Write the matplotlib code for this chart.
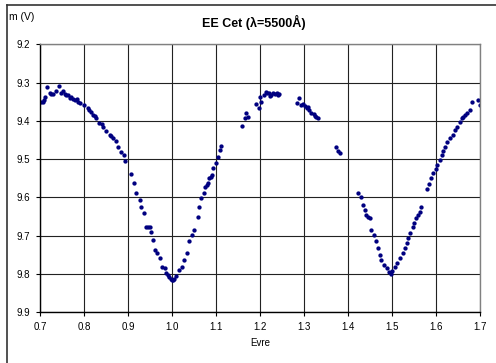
import matplotlib
matplotlib.use("Agg")
import matplotlib.pyplot as plt
from matplotlib.lines import Line2D

# phase (Evre) and V magnitude
phase = [0.703, 0.706, 0.710, 0.712, 0.716, 0.722, 0.726, 0.730, 0.737, 0.744,
         0.748, 0.752, 0.756, 0.760, 0.764, 0.768, 0.771, 0.775, 0.779, 0.783,
         0.786, 0.792, 0.800, 0.809, 0.812, 0.815, 0.820, 0.824, 0.828, 0.835,
         0.840, 0.843, 0.850, 0.858, 0.862, 0.866, 0.873, 0.877, 0.884, 0.892,
         0.894, 0.907,
         0.913, 0.919, 0.927, 0.930, 0.936, 0.942, 0.945, 0.949, 0.953, 0.957,
         0.961, 0.966, 0.972, 0.978, 0.983, 0.987, 0.990, 0.993, 0.997, 1.000,
         1.003, 1.005, 1.010, 1.015, 1.022, 1.028, 1.035, 1.039, 1.045, 1.050,
         1.058, 1.061, 1.067, 1.073, 1.076, 1.080, 1.082, 1.085, 1.088, 1.090,
         1.093, 1.100, 1.104, 1.109, 1.112,
         1.158, 1.165, 1.169, 1.173, 1.190, 1.197, 1.200, 1.203, 1.210, 1.214,
         1.217, 1.220, 1.223, 1.226, 1.230, 1.234, 1.238, 1.241, 1.244,
         1.283, 1.289, 1.294, 1.298, 1.302, 1.306, 1.309, 1.312, 1.317, 1.322,
         1.325, 1.328, 1.332,
         1.373, 1.378, 1.381,
         1.423, 1.429, 1.433, 1.438, 1.442, 1.446, 1.450, 1.453, 1.460, 1.463,
         1.469, 1.473, 1.476, 1.481, 1.488, 1.494, 1.497, 1.501, 1.507, 1.512,
         1.518, 1.524, 1.529, 1.533, 1.537, 1.542, 1.547, 1.550, 1.554, 1.560,
         1.563, 1.567,
         1.580, 1.585, 1.588, 1.594, 1.600, 1.603, 1.608, 1.613, 1.617, 1.621,
         1.626, 1.632, 1.638, 1.643, 1.648, 1.654, 1.658, 1.662, 1.666, 1.670,
         1.677, 1.681, 1.696, 1.700]
mag = [9.350, 9.350, 9.345, 9.337, 9.311, 9.326, 9.330, 9.330, 9.321, 9.308,
       9.328, 9.322, 9.330, 9.333, 9.332, 9.340, 9.338, 9.343, 9.345, 9.344,
       9.350, 9.354, 9.358, 9.367, 9.372, 9.376, 9.385, 9.388, 9.393, 9.405,
       9.408, 9.415, 9.426, 9.437, 9.440, 9.445, 9.452, 9.469, 9.480, 9.489,
       9.504, 9.539,
       9.563, 9.589, 9.607, 9.624, 9.641, 9.678, 9.676, 9.678, 9.689, 9.711,
       9.737, 9.746, 9.759, 9.782, 9.785, 9.798, 9.803, 9.808, 9.813, 9.815,
       9.815, 9.813, 9.805, 9.789, 9.781, 9.763, 9.746, 9.715, 9.698, 9.685,
       9.650, 9.624, 9.602, 9.589, 9.572, 9.568, 9.563, 9.550, 9.546, 9.541,
       9.524, 9.511, 9.494, 9.476, 9.466,
       9.413, 9.393, 9.379, 9.389, 9.356, 9.367, 9.337, 9.350, 9.332, 9.324,
       9.328, 9.326, 9.335, 9.332, 9.326, 9.330, 9.326, 9.332, 9.330,
       9.354, 9.341, 9.358, 9.356, 9.361, 9.367, 9.365, 9.372, 9.379, 9.382,
       9.386, 9.389, 9.393,
       9.467, 9.478, 9.485,
       9.589, 9.598, 9.620, 9.633, 9.646, 9.650, 9.654, 9.685, 9.698, 9.715,
       9.733, 9.750, 9.763, 9.776, 9.785, 9.796, 9.800, 9.791, 9.782, 9.772,
       9.759, 9.746, 9.733, 9.720, 9.707, 9.693, 9.678, 9.666, 9.654, 9.646,
       9.638, 9.624,
       9.579, 9.565, 9.550, 9.537, 9.526, 9.515, 9.502, 9.489, 9.478, 9.467,
       9.454, 9.445, 9.437, 9.424, 9.415, 9.402, 9.393, 9.390, 9.385, 9.379,
       9.372, 9.352, 9.345, 9.358]

xticks = [0.7, 0.8, 0.9, 1.0, 1.1, 1.2, 1.3, 1.4, 1.5, 1.6, 1.7]
yticks = [9.2, 9.3, 9.4, 9.5, 9.6, 9.7, 9.8, 9.9]

plt.rcParams['font.family'] = ['Liberation Sans', 'DejaVu Sans']

fig = plt.figure(figsize=(4.96, 3.63), dpi=100)
ax = fig.add_axes([40/496, 1 - 312.3/363, 440/496, 268/363])

ax.plot(phase, mag, 'o', color='#000080', markersize=3.1, markeredgewidth=0)

ax.set_xlim(0.7, 1.7)
ax.set_ylim(9.9, 9.2)
ax.set_xticks(xticks)
ax.set_xticklabels(['%.1f' % t for t in xticks])
ax.set_yticks(yticks)
ax.set_yticklabels(['%.1f' % t for t in yticks])
ax.tick_params(labelsize=7, length=3, width=0.8, color='black', pad=4)
ax.grid(True, color='#222222', linewidth=0.8)
ax.set_axisbelow(True)
for side in ['top', 'right']:
    ax.spines[side].set_color('#808080')
    ax.spines[side].set_linewidth(1.0)
for side in ['left', 'bottom']:
    ax.spines[side].set_color('black')
    ax.spines[side].set_linewidth(1.0)

ax.set_xlabel('Evre', fontsize=7, labelpad=4)
fig.text(9/496, 1 - 17/363, 'm (V)', fontsize=7.5, va='center', ha='left')
fig.text(254/496, 1 - 22/363, 'EE Cet (λ=5500Å)', fontsize=9, fontweight='bold',
         ha='center', va='center')

# outer chart frame (cropped on right and bottom)
fig.add_artist(Line2D([7/496, 7/496], [0, 1 - 5/363], color='#333333', linewidth=1.2))
fig.add_artist(Line2D([7/496, 1], [1 - 5/363, 1 - 5/363], color='#333333', linewidth=1.2))

fig.savefig('out.png', dpi=100)
